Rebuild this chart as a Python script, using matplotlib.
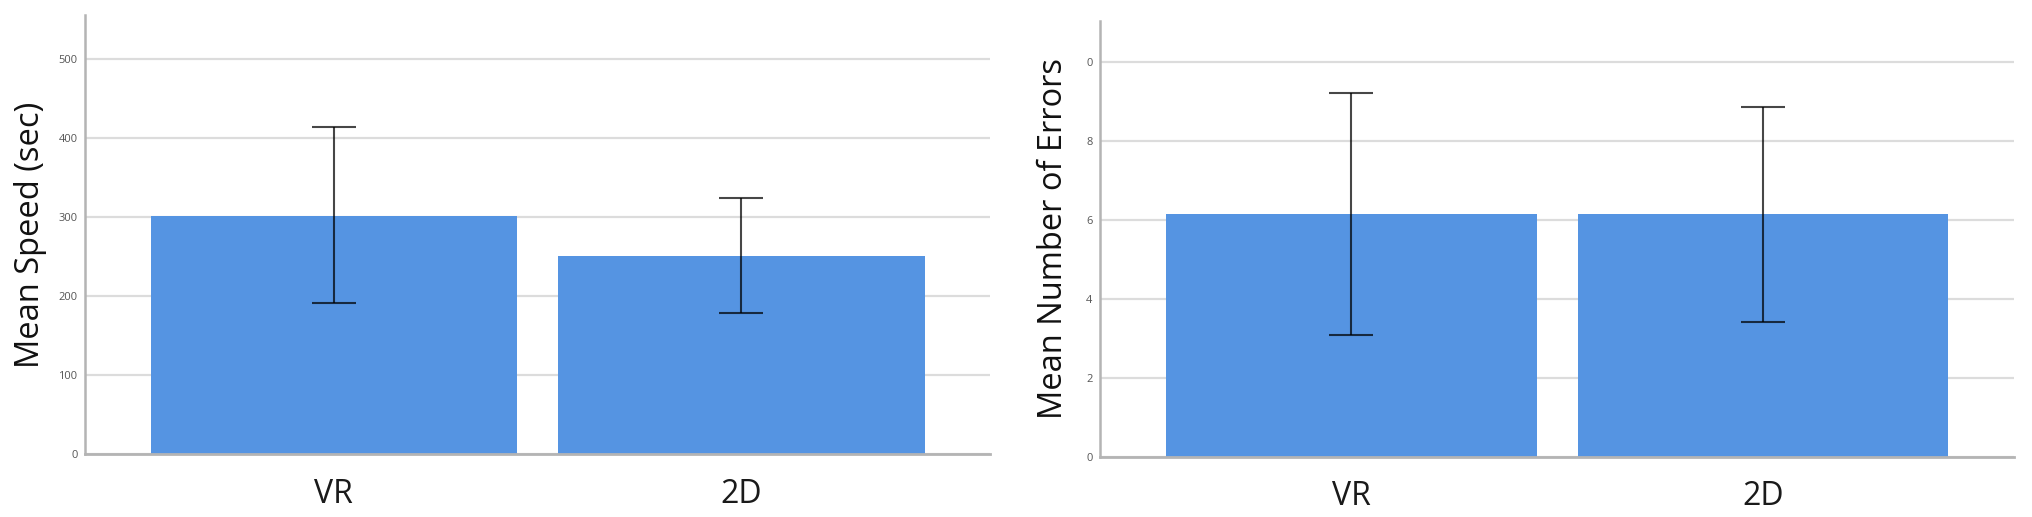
import matplotlib
matplotlib.use("Agg")
import matplotlib.pyplot as plt

plt.rcParams['font.family'] = ['Open Sans', 'DejaVu Sans']

categories = ["VR", "2D"]

speed_means = [301, 250]
speed_err_low = [190.5, 178]
speed_err_high = [414, 324]
speed_ticks = [0, 100, 200, 300, 400, 500]
speed_ticklabels = ["0", "100", "200", "300", "400", "500"]

error_means = [6.14, 6.14]
error_err_low = [3.08, 3.41]
error_err_high = [9.22, 8.86]
error_ticks = [0, 2, 4, 6, 8, 10]
error_ticklabels = ["0", "2", "4", "6", "8", "0"]

BAR_COLOR = "#5594E2"
GRID_COLOR = "#DCDCDC"
SPINE_COLOR = "#B4B4B4"

fig = plt.figure(figsize=(20.32, 5.17), dpi=100)
fig.patch.set_facecolor("white")

ax1 = fig.add_axes([0.0416, 0.1219, 0.4456, 0.849])
ax2 = fig.add_axes([0.5411, 0.1166, 0.4501, 0.8433])


def draw(ax, means, lo, hi, ticks, ticklabels, ymax, ylabel, labelpad):
    x = list(range(len(categories)))
    ax.bar(x, means, width=0.9, color=BAR_COLOR, zorder=2)
    yerr = [[m - l for m, l in zip(means, lo)], [h - m for m, h in zip(means, hi)]]
    ax.errorbar(x, means, yerr=yerr, fmt="none", ecolor="black",
                elinewidth=1.5, capsize=15.8, capthick=1.5, zorder=3, alpha=0.72)
    ax.set_xlim(-0.612, 1.61)
    ax.set_ylim(0, ymax)
    ax.set_yticks(ticks)
    ax.set_yticklabels(ticklabels)
    ax.yaxis.grid(True, color=GRID_COLOR, linewidth=1.6, zorder=0)
    ax.set_axisbelow(True)
    ax.set_xticks(x)
    ax.set_xticklabels(categories, fontsize=23, color="#1A1A1A")
    ax.tick_params(axis="x", length=0, pad=17)
    ax.tick_params(axis="y", length=0, labelsize=8, labelcolor="#555555", pad=5)
    for s in ["top", "right"]:
        ax.spines[s].set_visible(False)
    ax.spines["left"].set_color(SPINE_COLOR)
    ax.spines["left"].set_linewidth(1.8)
    ax.spines["bottom"].set_color(SPINE_COLOR)
    ax.spines["bottom"].set_linewidth(2.0)
    ax.set_ylabel(ylabel, fontsize=23.5, color="#111111", labelpad=labelpad)


draw(ax1, speed_means, speed_err_low, speed_err_high, speed_ticks,
     speed_ticklabels, 555, "Mean Speed (sec)", 8)
draw(ax2, error_means, error_err_low, error_err_high, error_ticks,
     error_ticklabels, 11.04, "Mean Number of Errors", 12)

fig.savefig("out.png", dpi=100, facecolor="white")
